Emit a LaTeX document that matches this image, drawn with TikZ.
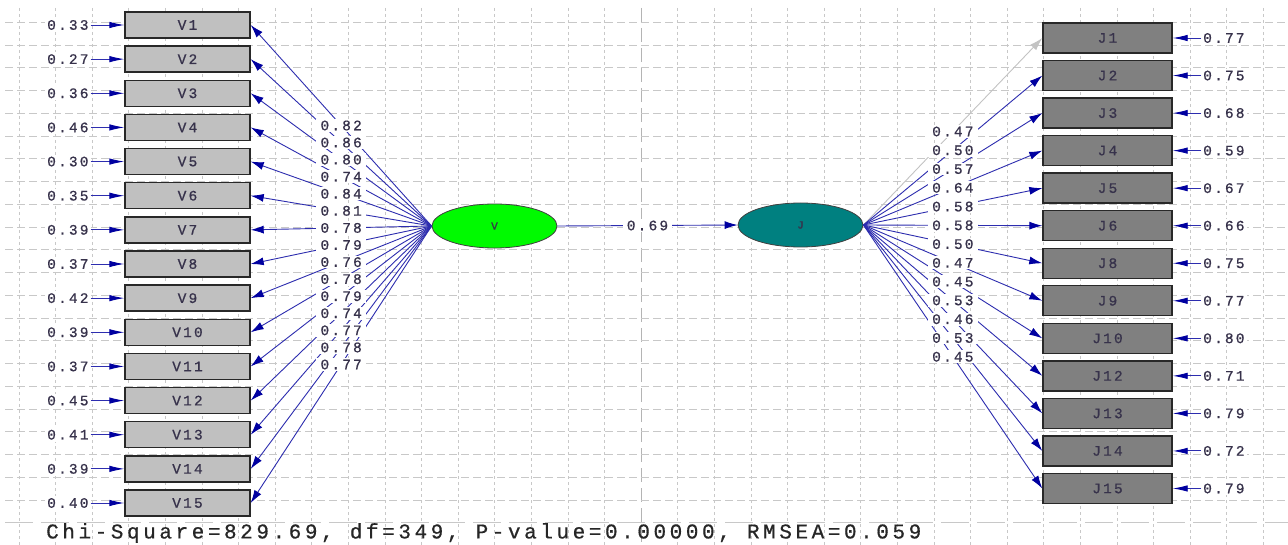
\documentclass[tikz,border=0pt]{standalone}
\usepackage{fontspec}
\usetikzlibrary{arrows.meta,shapes.geometric}
\newfontfamily\lisfont{Liberation Mono}[LetterSpace=15,FakeBold=0.7]
\newfontfamily\lisbigfont{Liberation Mono}[LetterSpace=17,FakeBold=0.6]
\newcommand\lisnum{\lisfont\fontsize{14.5}{16}\selectfont}
\newcommand\lisbig{\lisbigfont\fontsize{21}{23}\selectfont}
\newcommand\listiny{\lisfont\fontsize{11}{12}\selectfont}

\definecolor{pathblue}{RGB}{45,45,175}
\definecolor{tipblue}{RGB}{0,0,160}
\definecolor{txt}{RGB}{55,50,75}
\definecolor{boxline}{RGB}{40,40,40}
\definecolor{obsV}{RGB}{192,192,192}
\definecolor{obsJ}{RGB}{128,128,128}
\definecolor{latV}{RGB}{0,250,0}
\definecolor{latJ}{RGB}{0,128,128}
\definecolor{gridc}{RGB}{200,200,200}
\definecolor{fixgray}{RGB}{195,195,195}

\begin{document}
\begin{tikzpicture}[x=1pt,y=-1pt,
  vgrid/.style={draw=gridc, line width=0.8pt, dash pattern=on 3pt off 3pt},
  cgrid/.style={draw=gridc!90!black, line width=1.4pt, dash pattern=on 14pt off 6pt},
  hgrid/.style={draw=gridc, line width=0.8pt, dash pattern=on 8pt off 4pt},
  bgrid/.style={draw=gridc, line width=1.2pt, dash pattern=on 28pt off 8pt},
  obsv/.style={draw=boxline, line width=1.4pt, fill=obsV, minimum width=125pt,
    minimum height=26pt, inner sep=0pt, font=\lisnum, text=txt},
  obsj/.style={draw=boxline, line width=1.4pt, fill=obsJ, minimum width=129pt,
    minimum height=30pt, inner sep=0pt, font=\lisnum, text=txt},
  latent/.style={ellipse, draw=black!75, line width=0.8pt, minimum width=125pt,
    minimum height=44pt, inner sep=0pt, font=\listiny, text=txt},
  lab/.style={fill=white, inner xsep=4pt, inner ysep=1.5pt, font=\lisnum, text=txt},
  errlab/.style={fill=white, inner sep=2pt, font=\lisnum, text=txt},
  load/.style={draw=pathblue, line width=0.9pt,
    -{Latex[length=13pt,width=8pt,color=tipblue]}},
  loadfix/.style={draw=fixgray, line width=0.9pt,
    -{Latex[length=13pt,width=8pt,color=fixgray]}},
  errarr/.style={draw=pathblue, line width=0.9pt,
    -{Latex[length=15pt,width=6.5pt,color=tipblue]}}
]
\useasboundingbox (0,0) rectangle (1288,545);
\fill[white] (0,0) rectangle (1288,545);

% background grid
\foreach \k in {0,...,34} {
  \pgfmathsetmacro\gx{19+36.6*\k}
  \ifnum\k=17\relax\else \draw[vgrid] (\gx,8) -- (\gx,545); \fi
}
\draw[cgrid] (641.2,8) -- (641.2,545);
\foreach \k in {0,...,21} {
  \pgfmathsetmacro\gy{22.4+22.74*\k}
  \draw[hgrid] (5,\gy) -- (1288,\gy);
}
\draw[bgrid] (5,522.7) -- (1288,522.7);

% latent variables
\node[latent, fill=latV] (V) at (494.5,226) {V};
\node[latent, fill=latJ] (J) at (800.5,225) {J};

% indicators of V
\foreach \i/\e in {1/0.33,2/0.27,3/0.36,4/0.46,5/0.30,6/0.35,7/0.39,8/0.37,
                   9/0.42,10/0.39,11/0.37,12/0.45,13/0.41,14/0.39,15/0.40} {
  \pgfmathsetmacro\vy{25+34.143*(\i-1)}
  \node[obsv] (V\i) at (187.5,\vy) {V\i};
  \node[errlab, anchor=west] (eV\i) at (45,\vy) {\e};
  \draw[errarr] (eV\i.east) -- (V\i.west);
  \draw[load] (V.west) -- (V\i.east);
}

% indicators of J
\foreach \k/\n/\e in {1/1/0.77,2/2/0.75,3/3/0.68,4/4/0.59,5/5/0.67,6/6/0.66,
                      7/8/0.75,8/9/0.77,9/10/0.80,10/12/0.71,11/13/0.79,
                      12/14/0.72,13/15/0.79} {
  \pgfmathsetmacro\jy{38+37.54*(\k-1)}
  \node[obsj] (J\n) at (1107.5,\jy) {J\n};
  \node[errlab, anchor=west] (eJ\n) at (1201,\jy) {\e};
  \draw[errarr] (eJ\n.west) -- (J\n.east);
  \ifnum\k=1\relax
    \draw[loadfix] (J.east) -- (J\n.west);
  \else
    \draw[load] (J.east) -- (J\n.west);
  \fi
}

% structural path
\draw[load] (V.east) -- node[lab] {0.69} (J.west);

% loading labels on top of the paths
\foreach \i/\l in {1/0.82,2/0.86,3/0.80,4/0.74,5/0.84,6/0.81,7/0.78,8/0.79,
                   9/0.76,10/0.78,11/0.79,12/0.74,13/0.77,14/0.78,15/0.77} {
  \path (V.west) -- node[lab] {\l} (V\i.east);
}
\foreach \n/\l in {1/0.47,2/0.50,3/0.57,4/0.64,5/0.58,6/0.58,8/0.50,9/0.47,
                   10/0.45,12/0.53,13/0.46,14/0.53,15/0.45} {
  \path (J.east) -- node[lab] {\l} (J\n.west);
}

% fit statistics
\node[anchor=west, font=\lisbig, text=black!85, inner sep=0pt] (fit) at (46,533)
  {Chi-Square=829.69, df=349, P-value=0.00000, RMSEA=0.059};
\end{tikzpicture}
\end{document}
